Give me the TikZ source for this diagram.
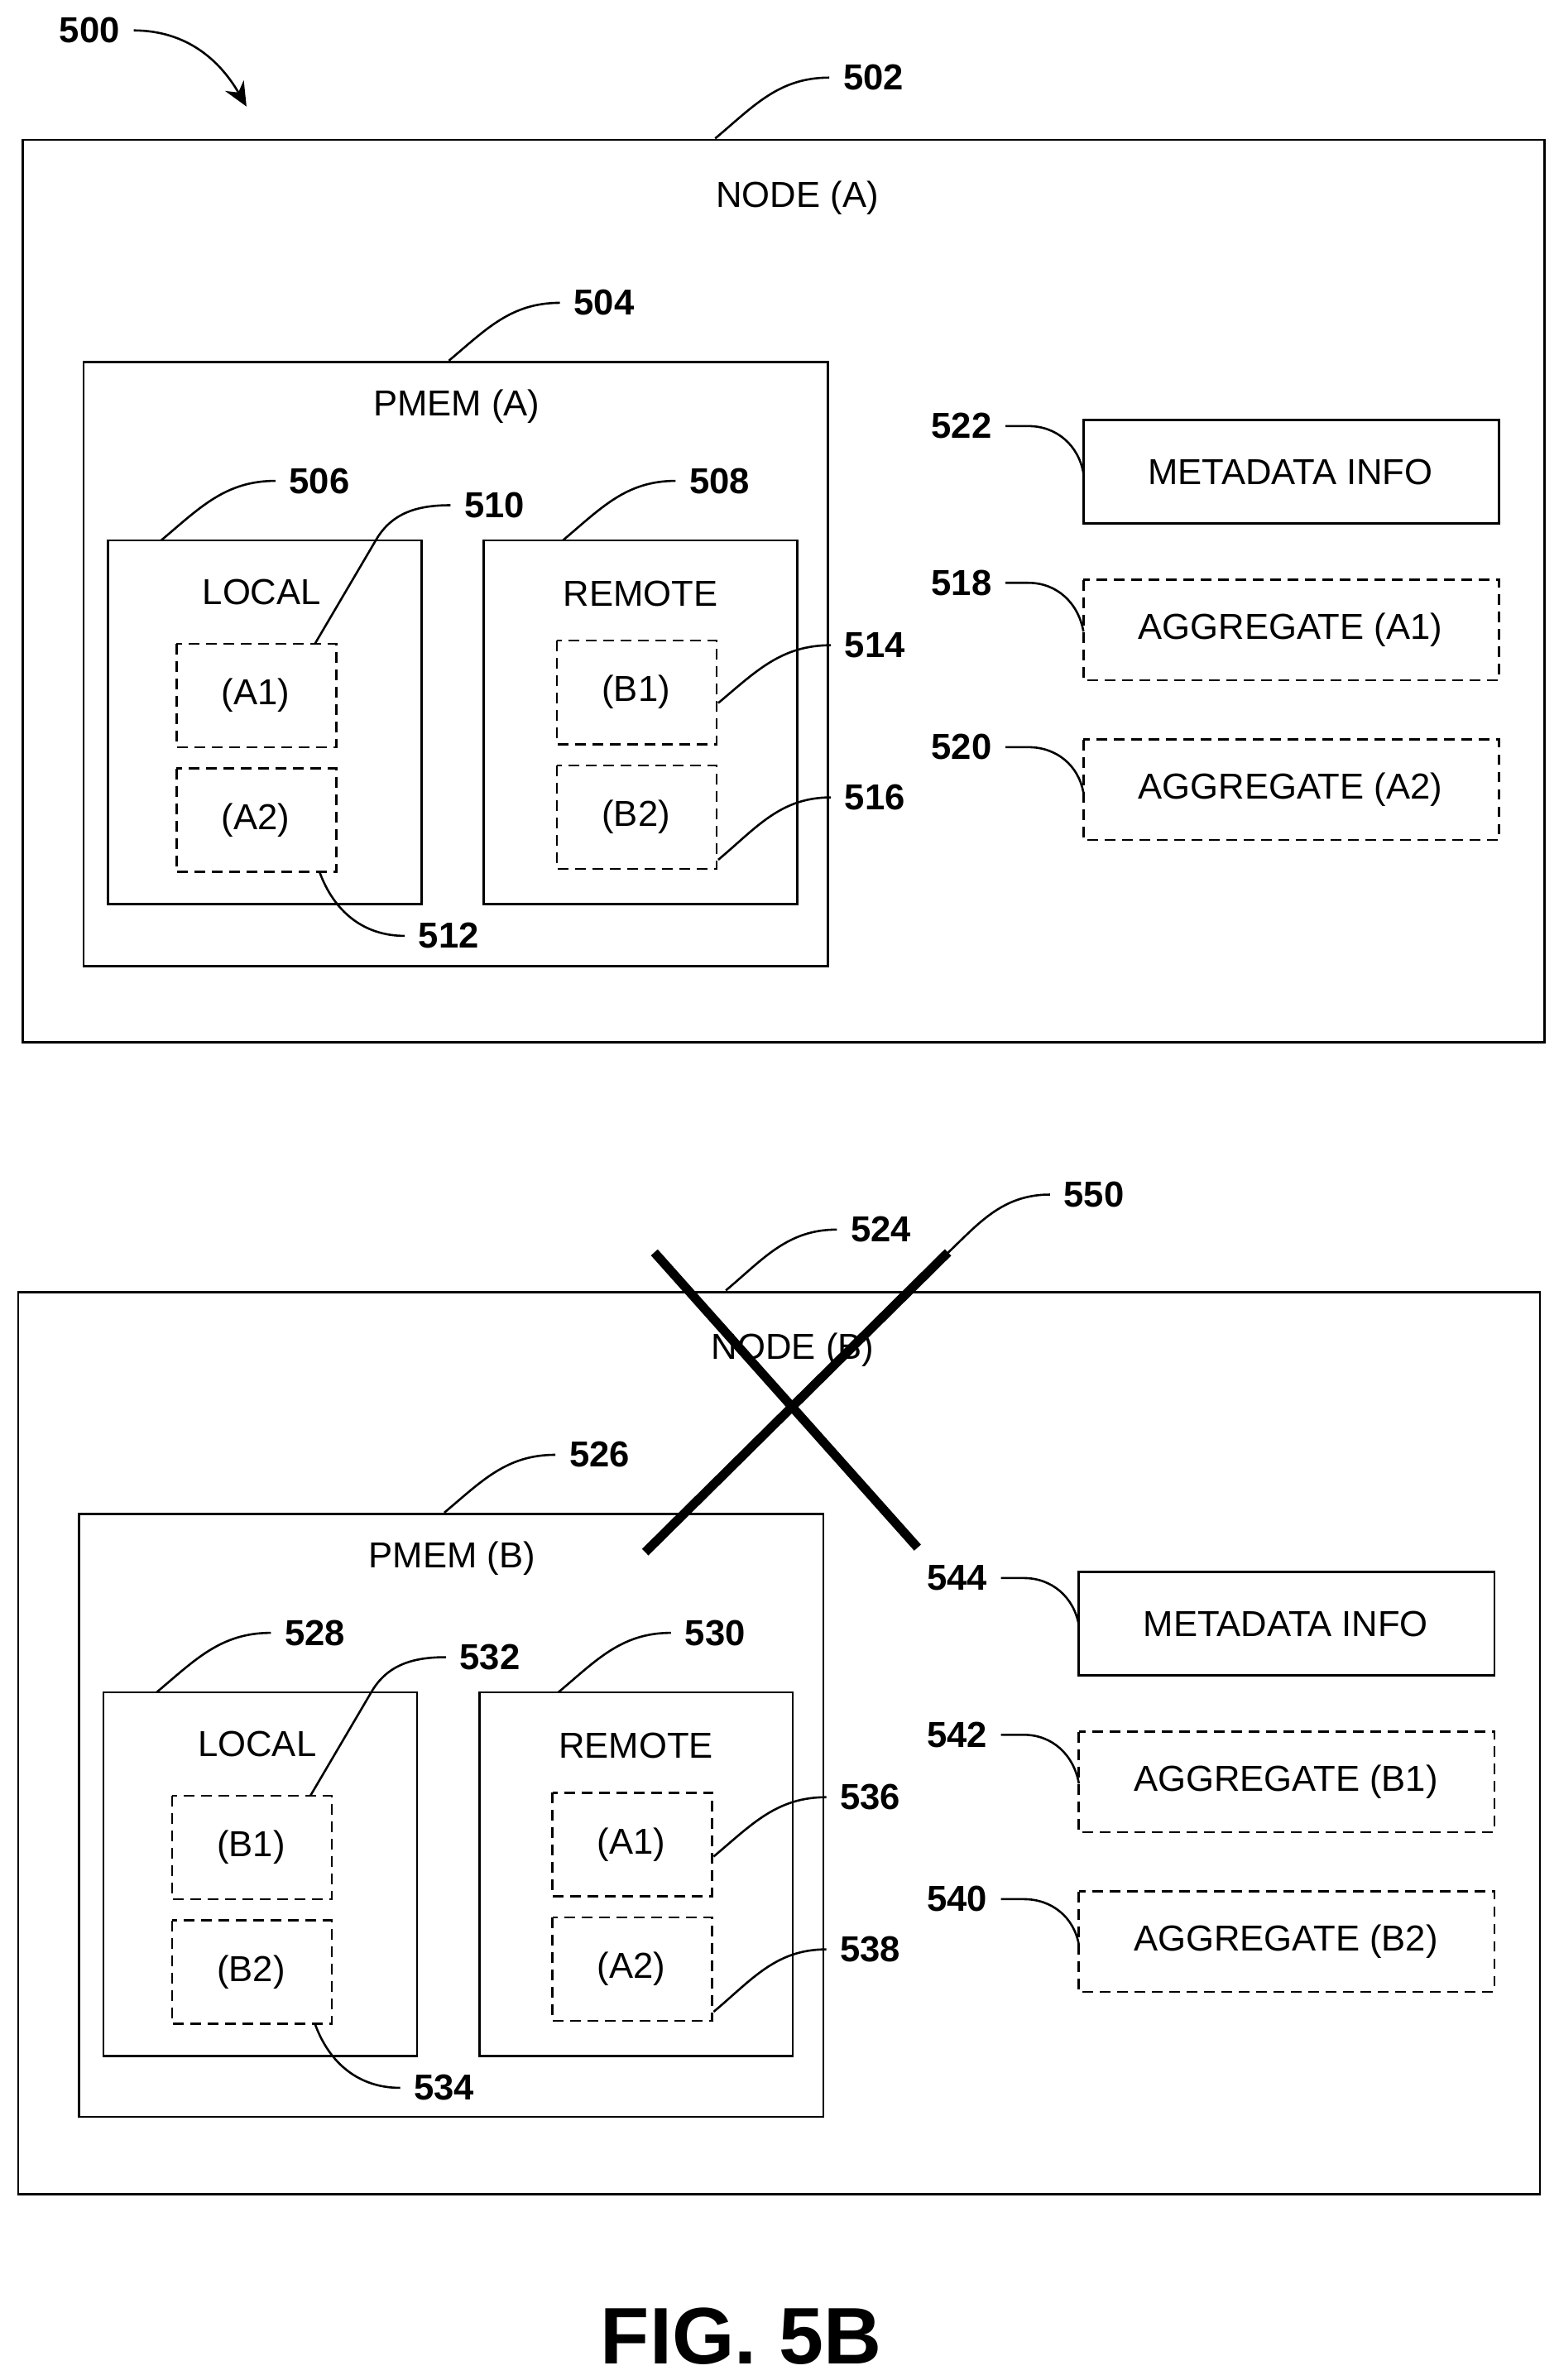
\documentclass[tikz,border=0pt]{standalone}
\usepackage{fontspec}
\setmainfont{Liberation Sans}
\usetikzlibrary{arrows.meta}
\begin{document}
\begin{tikzpicture}[x=0.02cm,y=-0.02cm,
 box/.style={draw,line width=0.8pt},
 dbox/.style={draw,line width=0.8pt,dash pattern=on 4pt off 2.5pt},
 txt/.style={font=\fontsize{13.5}{16}\selectfont},
 num/.style={font=\fontsize{13.5}{16}\selectfont\bfseries,anchor=west,inner ysep=1pt,inner xsep=5pt},
 ld/.style={line width=0.8pt}]
\useasboundingbox (0,0) rectangle (1024,1564);
% ---------- Node A
\draw[box] (15,92) rectangle (1015,685);
\node[txt] (na) at (524,130) {NODE (A)};
\draw[box] (55,238) rectangle (544,635);
\node[txt] (pa) at (300,267) {PMEM (A)};
\draw[box] (71,355) rectangle (277,594);
\node[txt] at (172,389) {LOCAL};
\draw[dbox] (116,423) rectangle (221,491); \node[txt] at (168,457) {(A1)};
\draw[dbox] (116,505) rectangle (221,573); \node[txt] at (168,539) {(A2)};
\draw[box] (318,355) rectangle (524,594);
\node[txt] at (421,390) {REMOTE};
\draw[dbox] (366,421) rectangle (471,489); \node[txt] at (418,455) {(B1)};
\draw[dbox] (366,503) rectangle (471,571); \node[txt] at (418,537) {(B2)};
\draw[box] (712,276) rectangle (985,344); \node[txt] at (848,310) {METADATA INFO};
\draw[dbox] (712,381) rectangle (985,447); \node[txt] at (848,414) {AGGREGATE (A1)};
\draw[dbox] (712,486) rectangle (985,552); \node[txt] at (848,519) {AGGREGATE (A2)};
% ---------- Node B
\draw[box] (12,849) rectangle (1012,1442);
\node[txt] (nb) at (521,887) {NODE (B)};
\draw[box] (52,995) rectangle (541,1391);
\node[txt] at (297,1024) {PMEM (B)};
\draw[box] (68,1112) rectangle (274,1351);
\node[txt] at (169,1146) {LOCAL};
\draw[dbox] (113,1180) rectangle (218,1248); \node[txt] at (165,1214) {(B1)};
\draw[dbox] (113,1262) rectangle (218,1330); \node[txt] at (165,1296) {(B2)};
\draw[box] (315,1112) rectangle (521,1351);
\node[txt] at (418,1147) {REMOTE};
\draw[dbox] (363,1178) rectangle (468,1246); \node[txt] at (415,1212) {(A1)};
\draw[dbox] (363,1260) rectangle (468,1328); \node[txt] at (415,1294) {(A2)};
\draw[box] (709,1033) rectangle (982,1101); \node[txt] at (845,1067) {METADATA INFO};
\draw[dbox] (709,1138) rectangle (982,1204); \node[txt] at (845,1171) {AGGREGATE (B1)};
\draw[dbox] (709,1243) rectangle (982,1309); \node[txt] at (845,1276) {AGGREGATE (B2)};
% X
\coordinate (x1) at (430,823); \coordinate (x2) at (603,1017);
\coordinate (x3) at (424,1020); \coordinate (x4) at (623,823);
\draw[line width=3.4pt] (x1) -- (x2);
\draw[line width=3.4pt] (x3) -- (x4);
% ---------- labels
\node[num] (l500) at (30,20) {500};
\draw[ld,-{Stealth[length=9pt,width=8pt]}] (l500.east) to[out=0,in=120] (162,70);
\foreach \sx/\sy/\lx/\ly/\t in {470/91/545/51/502, 295/237/368/199/504, 106/355/181/316/506,
  370/355/444/316/508, 477/848/550/808/524, 292/994/365/956/526, 103/1112/178/1073/528, 367/1112/441/1073/530,
  610/835/690/785/550}{
  \coordinate (s) at (\sx,\sy);
  \node[num] (L) at (\lx,\ly) {\t};
  \draw[ld] (s) to[out=40,in=180] (L.west);
}
\foreach \lx/\ly/\bx/\by/\t in {603/280/712/311/522, 603/383/712/415/518, 603/491/712/521/520,
  600/1037/709/1068/544, 600/1140/709/1172/542, 600/1248/709/1278/540}{
  \node[num] (L) at (\lx,\ly) {\t};
  \coordinate (b) at (\bx,\by);
  \draw[ld] (L.east) -- ++(15,0) to[out=0,in=100] (b);
}
\foreach \sx/\sy/\lx/\ly/\t in {472/462/546/424/514, 472/565/546/524/516, 469/1220/543/1181/536, 469/1322/543/1281/538}{
  \coordinate (s) at (\sx,\sy);
  \node[num] (L) at (\lx,\ly) {\t};
  \draw[ld] (s) to[out=40,in=180] (L.west);
}
\foreach \sx/\sy/\lx/\ly/\t in {207/423/296/332/510, 204/1180/293/1089/532}{
  \coordinate (s) at (\sx,\sy);
  \node[num] (L) at (\lx,\ly) {\t};
  \draw[ld] (s) -- ++(40,-68) to[out=60,in=180] (L.west);
}
\foreach \sx/\sy/\lx/\ly/\t in {210/573/266/615/512, 207/1330/263/1372/534}{
  \coordinate (s) at (\sx,\sy);
  \node[num] (L) at (\lx,\ly) {\t};
  \draw[ld] (s) to[out=-70,in=180] (L.west);
}
\node[font=\fontsize{30}{34}\selectfont\bfseries] (fig) at (487,1535) {FIG. 5B};
\end{tikzpicture}
\end{document}
